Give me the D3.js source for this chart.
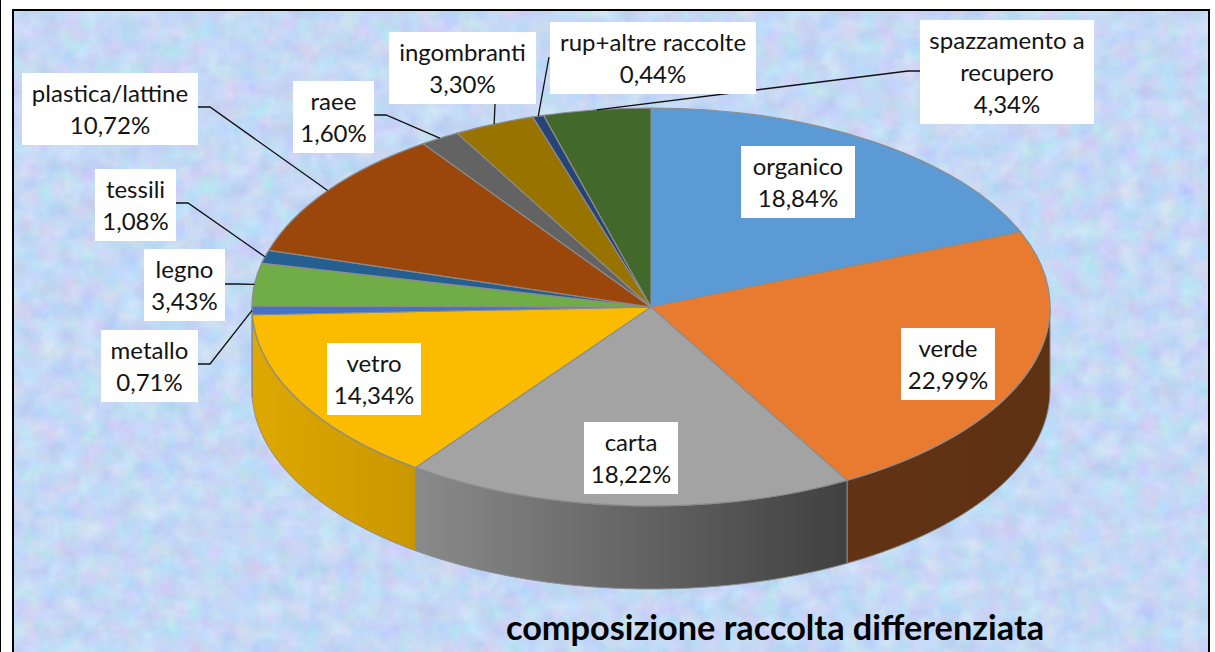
<!DOCTYPE html>
<html>
<head>
<meta charset="utf-8">
<script src="https://cdn.jsdelivr.net/npm/d3@7"></script>
<style>
  html, body { margin: 0; padding: 0; background: #fff; overflow: hidden; }
  text { font-family: Lato, "Open Sans", sans-serif; fill: #141414; }
</style>
</head>
<body>
<div id="display"></div>
<script>
const w = 1215;
const h = 652;

const categories = ['organico', 'verde', 'carta', 'vetro', 'metallo', 'legno', 'tessili', 'plastica/lattine', 'raee', 'ingombranti', 'rup+altre raccolte', 'spazzamento a recupero'];
const values = [18.84, 22.99, 18.22, 14.34, 0.71, 3.43, 1.08, 10.72, 1.60, 3.30, 0.44, 4.34];
const topColors = ['#5b9ad4', '#e97b30', '#a3a3a3', '#fbbc00', '#4472c4', '#70ad47', '#255e91', '#9b470c', '#636363', '#997300', '#264478', '#43682b'];
const title = 'composizione raccolta differenziata';

// label boxes, separate from the data: centre x, top y, width, height
const boxes = [
    [798, 146, 114, 72], [948, 328, 94, 72], [631, 422, 94, 72], [374, 343, 94, 72],
    [149.5, 330, 97, 72], [184.5, 249, 81, 72], [135.5, 169, 81, 72], [110, 73, 176, 72],
    [333.5, 81, 81, 72], [462.5, 32, 147, 72], [653, 22, 206, 72], [1007, 20, 174, 104]
];
// leader elbows [x, y] on the box side, null when the label sits on its slice
const leaders = [
    null, null, null, null,
    [[198, 364], [210, 364]], [[225, 284], [237, 284]], [[176, 203], [188, 203]], [[198, 107], [210, 107]],
    [[374, 115], [386, 115]], [[495, 104], [495, 104]], [[549, 57], [549, 57]], [[920, 71], [908, 71]]
];

let viz = d3.select('#display')
    .append('svg')
    .attr('width', w)
    .attr('height', h)
    .style('display', 'block');

let defs = viz.append('defs');

// mottled paper background
let paper = defs.append('filter').attr('id', 'paper').attr('x', 0).attr('y', 0).attr('width', 1).attr('height', 1)
    .attr('color-interpolation-filters', 'sRGB');
paper.append('feTurbulence').attr('type', 'fractalNoise').attr('baseFrequency', 0.05).attr('numOctaves', 4).attr('seed', 11);
paper.append('feColorMatrix').attr('type', 'matrix')
    .attr('values', '0.2 0 0 0 0.67  0 0.16 0 0 0.77  0 0 0.1 0 0.91  0 0 0 0 1');

function sideGradient(id, stops) {
    let g = defs.append('linearGradient').attr('id', id);
    stops.forEach((s) => g.append('stop').attr('offset', s[0]).attr('stop-color', s[1]));
}
sideGradient('sideVerde', [[0, '#623315'], [1, '#5f3113']]);
sideGradient('sideCarta', [[0, '#8a8a8a'], [1, '#404040']]);
sideGradient('sideVetro', [[0, '#dfa800'], [1, '#c99700']]);

viz.append('rect').attr('x', 0).attr('y', 0).attr('width', 1).attr('height', h).attr('fill', '#000');
viz.append('rect').attr('x', 13).attr('y', 10).attr('width', 1196).attr('height', h)
    .attr('filter', 'url(#paper)');
viz.append('rect').attr('x', 13).attr('y', 10).attr('width', 1196).attr('height', h + 10)
    .attr('fill', 'none').attr('stroke', '#000').attr('stroke-width', 2);

// pie geometry: unit circle squashed by the two scales
const cx = 651, cy = 307, rx = 399, ry = 199, depth = 83;
let xScale = d3.scaleLinear().domain([-1, 1]).range([cx - rx, cx + rx]);
let yScale = d3.scaleLinear().domain([-1, 1]).range([cy - ry, cy + ry]);

let slices = d3.pie().sort(null).value((d) => d)(values);
let px = (a) => xScale(Math.sin(a));
let py = (a) => yScale(-Math.cos(a));

// side wall, only the front half of the rim shows
const sideFill = { 1: 'url(#sideVerde)', 2: 'url(#sideCarta)', 3: 'url(#sideVetro)', 4: '#dfa800' };
slices.forEach((s, i) => {
    if (!sideFill[i]) return;
    let a0 = Math.max(s.startAngle, Math.PI / 2);
    let a1 = Math.min(s.endAngle, 3 * Math.PI / 2);
    if (a0 >= a1) return;
    let p = d3.path();
    p.moveTo(px(a0), py(a0));
    d3.range(a0, a1, 0.01).concat([a1]).forEach((a) => p.lineTo(px(a), py(a)));
    d3.range(a1, a0, -0.01).concat([a0]).forEach((a) => p.lineTo(px(a), py(a) + depth));
    p.closePath();
    viz.append('path').attr('d', p.toString()).attr('fill', sideFill[i])
        .attr('stroke', '#8a8a8a').attr('stroke-width', 1);
});

// top face
let arc = d3.arc().innerRadius(0).outerRadius(1);
viz.append('g')
    .attr('transform', 'translate(' + cx + ',' + cy + ') scale(' + rx + ',' + ry + ')')
    .selectAll('path')
    .data(slices)
    .join('path')
    .attr('d', arc)
    .attr('fill', (d, i) => topColors[i])
    .attr('stroke', '#8c8c8c')
    .attr('stroke-width', 1.2)
    .attr('vector-effect', 'non-scaling-stroke');

// leader lines run to the rim at the middle of each slice
slices.forEach((s, i) => {
    if (!leaders[i]) return;
    let mid = (s.startAngle + s.endAngle) / 2;
    let pts = leaders[i].concat([[px(mid), py(mid)]]);
    viz.append('path').attr('d', d3.line()(pts)).attr('fill', 'none')
        .attr('stroke', '#111').attr('stroke-width', 1.3);
});

const fmt = (v) => v.toFixed(2).replace('.', ',') + '%';
const lineH = 32;
categories.forEach((c, i) => {
    let b = boxes[i];
    let lines = c === 'spazzamento a recupero' ? ['spazzamento a', 'recupero'] : [c];
    lines.push(fmt(values[i]));
    viz.append('rect').attr('x', b[0] - b[2] / 2).attr('y', b[1]).attr('width', b[2]).attr('height', b[3]).attr('fill', '#fff');
    lines.forEach((t, j) => {
        viz.append('text').attr('x', b[0]).attr('y', b[1] + 29 + j * lineH)
            .attr('text-anchor', 'middle').attr('font-size', 24).text(t);
    });
});

viz.append('text').attr('x', 775).attr('y', 640).attr('text-anchor', 'middle')
    .attr('font-size', 34.3).attr('font-weight', 700).style('fill', '#000').text(title);
</script>
</body>
</html>
